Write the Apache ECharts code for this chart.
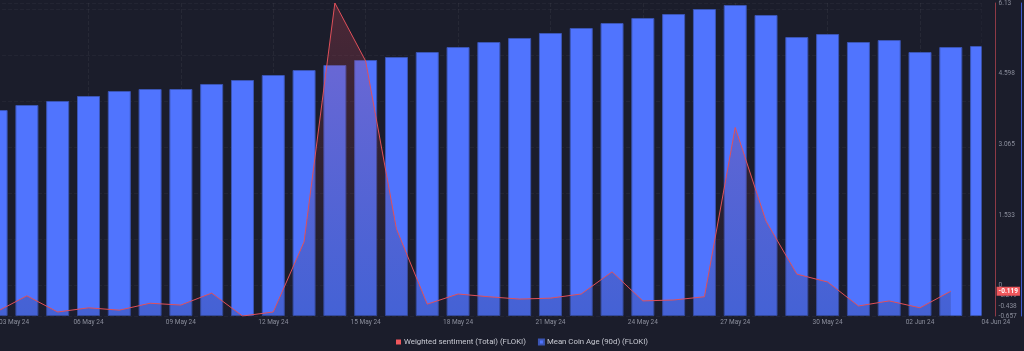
<!DOCTYPE html>
<html>
<head>
<meta charset="utf-8">
<script src="https://cdn.jsdelivr.net/npm/echarts@6/dist/echarts.min.js"></script>
<style>
  html, body { margin: 0; padding: 0; background: #1b1d2b; }
  #chart { width: 1024px; height: 351px; }
</style>
</head>
<body>
<div id="chart"></div>
<script>
const dates = [
    '03 May 24', '04 May 24', '05 May 24', '06 May 24', '07 May 24', '08 May 24', '09 May 24',
    '10 May 24', '11 May 24', '12 May 24', '13 May 24', '14 May 24', '15 May 24', '16 May 24',
    '17 May 24', '18 May 24', '19 May 24', '20 May 24', '21 May 24', '22 May 24', '23 May 24',
    '24 May 24', '25 May 24', '26 May 24', '27 May 24', '28 May 24', '29 May 24', '30 May 24',
    '31 May 24', '01 Jun 24', '02 Jun 24', '03 Jun 24', '04 Jun 24'
];

// mean coin age (90d), days
const coinAge = [
    30.27, 31.01, 31.60, 32.33, 33.07, 33.36, 33.36, 34.10, 34.68, 35.42, 36.15,
    36.89, 37.62, 38.06, 38.80, 39.53, 40.27, 40.86, 41.59, 42.33, 43.06, 43.80,
    44.38, 45.12, 45.71, 44.24, 41.00, 41.44, 40.27, 40.56, 38.80, 39.53, 39.68
];

// weighted sentiment (total)
const sentiment = [
    -0.57, -0.22, -0.57, -0.48, -0.53, -0.38, -0.42, -0.16, -0.657, -0.57, 0.95,
    6.13, 4.87, 1.23, -0.40, -0.18, -0.24, -0.29, -0.27, -0.18, 0.30, -0.33,
    -0.31, -0.24, 3.43, 1.40, 0.25, 0.08, -0.44, -0.33, -0.48, -0.119, null
];

const sentimentTicks = [-0.657, -0.438, -0.219, 0, 1.533, 3.065, 4.598, 6.13];

const BG = '#1b1d2b';
const lastSentiment = sentiment.filter(v => v !== null).slice(-1)[0];
const showDate = i => i % 3 === 0 || i === dates.length - 1;

const chart = echarts.init(document.getElementById('chart'));
const option = {
    animation: false,
    backgroundColor: BG,
    textStyle: {fontFamily: 'Roboto'},
    grid: {left: -3.9, right: 42.4, top: 3, bottom: 35, containLabel: false, outerBoundsMode: 'none'},
    legend: {
        left: 396,
        bottom: 5,
        padding: 0,
        itemWidth: 5,
        itemHeight: 5,
        itemGap: 12,
        icon: 'rect',
        textStyle: {color: '#c8cad3', fontSize: 7.8, padding: [0, 0, 0, -2]},
        data: ['Weighted sentiment (Total) (FLOKI)', 'Mean Coin Age (90d) (FLOKI)']
    },
    xAxis: {
        type: 'category',
        boundaryGap: false,
        data: dates,
        axisLine: {show: false},
        axisTick: {show: false},
        axisLabel: {
            interval: showDate,
            color: '#8b8e9c',
            fontSize: 6.5,
            margin: 3,
            alignMinLabel: 'left',
            alignMaxLabel: 'left',
            formatter: (v, i) => i === 0 ? '{first|' + v + '}' : v,
            rich: {first: {color: '#8b8e9c', fontSize: 6.5, padding: [0, 0, 0, 3]}}
        },
        splitLine: {
            show: true,
            interval: showDate,
            lineStyle: {color: 'rgba(255,255,255,0.05)', type: 'dashed'}
        }
    },
    yAxis: [
        {
            type: 'value',
            position: 'right',
            offset: 14,
            min: 'dataMin',
            max: 'dataMax',
            axisLine: {show: true, lineStyle: {color: '#8e3a46'}},
            axisTick: {show: false},
            axisLabel: {
                customValues: sentimentTicks,
                formatter: v => String(v),
                color: '#8b8e9c',
                fontSize: 6.5,
                margin: 3
            },
            splitLine: {show: true, lineStyle: {color: 'rgba(255,255,255,0.04)', type: 'dashed'}}
        },
        {
            type: 'value',
            position: 'right',
            offset: 40,
            min: 0,
            max: 46,
            axisLine: {show: true, lineStyle: {color: '#3f5bd0'}},
            axisTick: {show: false},
            axisLabel: {show: false},
            splitLine: {show: false}
        }
    ],
    series: [
        {
            name: 'Mean Coin Age (90d) (FLOKI)',
            type: 'bar',
            yAxisIndex: 1,
            data: coinAge,
            barWidth: 23,
            itemStyle: {color: '#5074fe', borderColor: '#3b55b5', borderWidth: 1}
        },
        {
            name: 'Weighted sentiment (Total) (FLOKI)',
            type: 'line',
            yAxisIndex: 0,
            data: sentiment,
            symbol: 'none',
            itemStyle: {color: '#f0575c'},
            lineStyle: {color: '#e0505a', width: 1},
            areaStyle: {
                origin: 'start',
                color: new echarts.graphic.LinearGradient(0, 0, 0, 1, [
                    {offset: 0, color: 'rgba(218,72,88,0.36)'},
                    {offset: 1, color: 'rgba(25,30,60,0.3)'}
                ])
            },
            markLine: {
                silent: true,
                symbol: 'none',
                z: 10,
                lineStyle: {color: 'rgba(0,0,0,0)', type: 'solid', width: 1},
                data: [{yAxis: lastSentiment}],
                label: {
                    position: 'end',
                    distance: 15,
                    opacity: 1,
                    formatter: String(lastSentiment),
                    color: '#ffffff',
                    fontSize: 6.5,
                    fontWeight: 'bold',
                    backgroundColor: '#f0575c',
                    padding: [1, 2]
                }
            }
        }
    ]
};
chart.setOption(option);

// the plot area ends at the last day, so the last bar is cut in half there
const xEnd = chart.convertToPixel({xAxisIndex: 0}, dates.length - 1);
const yBottom = chart.convertToPixel({yAxisIndex: 0}, Math.min(...sentiment.filter(v => v !== null)));
chart.setOption({
    graphic: [{
        type: 'rect',
        z: 5,
        silent: true,
        shape: {x: xEnd, y: 0, width: 13, height: yBottom},
        style: {fill: BG}
    }]
});
</script>
</body>
</html>
